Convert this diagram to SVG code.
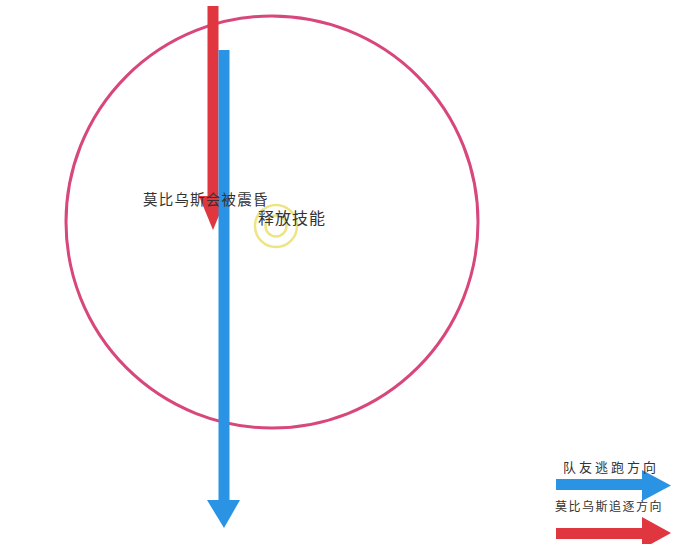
<svg xmlns="http://www.w3.org/2000/svg" width="700" height="544" viewBox="0 0 700 544">
  <style>
    .red { fill: #e0363f; }
    .blue { fill: #2a93e3; }
    .lbl { font-family: "Noto Sans CJK SC", "Noto Sans", sans-serif; fill: #333333; }
  </style>
  <rect width="700" height="544" fill="#ffffff"/>
  <g id="range-circle">
    <circle cx="272" cy="222" r="206" fill="none" stroke="#d8477b" stroke-width="3"/>
  </g>
  <g id="connectors">
    <g id="red-arrow">
      <rect class="red" x="207.5" y="6" width="11" height="191"/>
      <polygon class="red" points="199,196 227,196 213,230"/>
    </g>
    <g id="blue-arrow">
      <rect class="blue" x="218.5" y="50" width="11" height="452"/>
      <polygon class="blue" points="207,500 240,500 224,528"/>
    </g>
  </g>
  <g id="skill-point">
    <circle cx="276" cy="226" r="21" fill="none" stroke="#ece582" stroke-width="2.5"/>
    <circle cx="276" cy="226" r="10.5" fill="none" stroke="#ece582" stroke-width="2.5"/>
  </g>
  <g id="label-stun">
    <text class="lbl" x="143" y="205" font-size="14.5" letter-spacing="1.2">莫比乌斯会被震昏</text>
  </g>
  <g id="label-skill">
    <text class="lbl" x="258" y="224" font-size="16" letter-spacing="1">释放技能</text>
  </g>
  <g id="legend">
    <g id="legend-blue">
      <rect class="blue" x="556" y="479" width="88" height="11"/>
      <polygon class="blue" points="642,470 642,501 671,485.5"/>
      <text class="lbl" x="563" y="472" font-size="13" letter-spacing="3">队友逃跑方向</text>
    </g>
    <g id="legend-red">
      <rect class="red" x="556" y="528" width="88" height="11"/>
      <polygon class="red" points="642,517 642,549 671,533"/>
      <text class="lbl" x="555" y="511" font-size="12" letter-spacing="1.5">莫比乌斯追逐方向</text>
    </g>
  </g>
</svg>
